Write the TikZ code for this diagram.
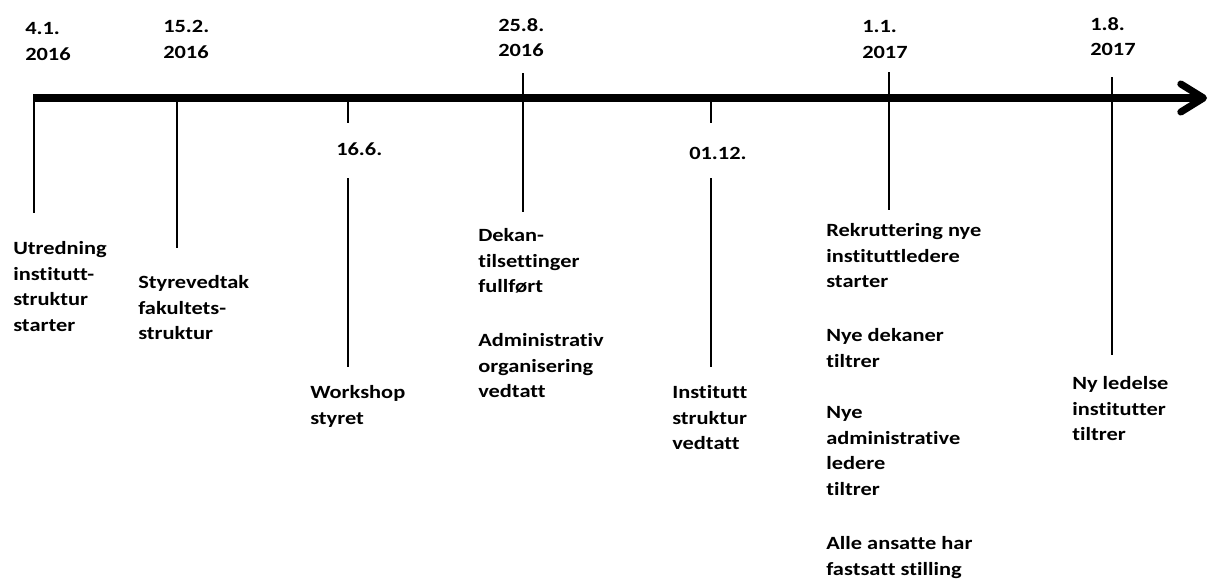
\documentclass[tikz,border=0pt]{standalone}
\usepackage{fontspec}
\setmainfont{Carlito}[Ligatures={NoCommon}, FakeStretch=1.2]
\usetikzlibrary{arrows.meta}

\tikzset{
  lbl/.style={anchor=north west, inner sep=0pt, align=left,
    font=\bfseries\fontsize{14}{19.3}\selectfont},
  tick/.style={line width=1.1pt},
  timeline/.style={line width=5.3pt, -{Straight Barb[length=17pt, width=21pt, round]}}
}

\begin{document}
\begin{tikzpicture}[x=0.75pt, y=-0.75pt]

  \useasboundingbox (0,0) rectangle (1209,579);

  % time axis
  \coordinate (a0) at (33,98);
  \coordinate (a1) at (1207,98);
  \draw[timeline] (a0) -- (a1);

  % dates
  \node[lbl] (d1) at (25,22) {4.1.\\2016};
  \node[lbl] (d2) at (163,20) {15.2.\\2016};
  \node[lbl] (d3) at (336,142) {16.6.};
  \node[lbl] (d4) at (498,18) {25.8.\\2016};
  \node[lbl] (d5) at (689,147) {01.12.};
  \node[lbl] (d6) at (862,20) {1.1.\\2017};
  \node[lbl] (d7) at (1090,17) {1.8.\\2017};

  % events
  \node[lbl] (e1) at (13,241) {Utredning\\institutt-\\struktur\\starter};
  \node[lbl] (e2) at (138,275) {Styrevedtak\\fakultets-\\struktur};
  \node[lbl] (e3) at (310,385) {Workshop\\styret};
  \node[lbl] (e4a) at (478,228) {Dekan-\\tilsettinger\\fullført};
  \node[lbl] (e4b) at (478,333) {Administrativ\\organisering\\vedtatt};
  \node[lbl] (e5) at (672,385) {Institutt\\struktur\\vedtatt};
  \node[lbl] (e6a) at (826,223) {Rekruttering nye\\instituttledere\\starter};
  \node[lbl] (e6b) at (826,328) {Nye dekaner\\tiltrer};
  \node[lbl] (e6c) at (826,406) {Nye\\administrative\\ledere\\tiltrer};
  \node[lbl] (e6d) at (826,536) {Alle ansatte har\\fastsatt stilling};
  \node[lbl] (e7) at (1072,376) {Ny ledelse\\institutter\\tiltrer};

  % tick ends
  \coordinate (t1a) at (34,98);    \coordinate (t1b) at (34,213);
  \coordinate (t2a) at (177,98);   \coordinate (t2b) at (177,248);
  \coordinate (t3a) at (348,98);   \coordinate (t3b) at (348,123);
  \coordinate (t3c) at (348,178);  \coordinate (t3d) at (348,367);
  \coordinate (t4a) at (523,73);   \coordinate (t4b) at (523,212);
  \coordinate (t5a) at (711,98);   \coordinate (t5b) at (711,123);
  \coordinate (t5c) at (711,178);  \coordinate (t5d) at (711,367);
  \coordinate (t6a) at (889,72);   \coordinate (t6b) at (889,210);
  \coordinate (t7a) at (1112,77);  \coordinate (t7b) at (1112,355);

  \draw[tick] (t1a) -- (t1b);
  \draw[tick] (t2a) -- (t2b);
  \draw[tick] (t3a) -- (t3b);
  \draw[tick] (t3c) -- (t3d);
  \draw[tick] (t4a) -- (t4b);
  \draw[tick] (t5a) -- (t5b);
  \draw[tick] (t5c) -- (t5d);
  \draw[tick] (t6a) -- (t6b);
  \draw[tick] (t7a) -- (t7b);

\end{tikzpicture}
\end{document}
